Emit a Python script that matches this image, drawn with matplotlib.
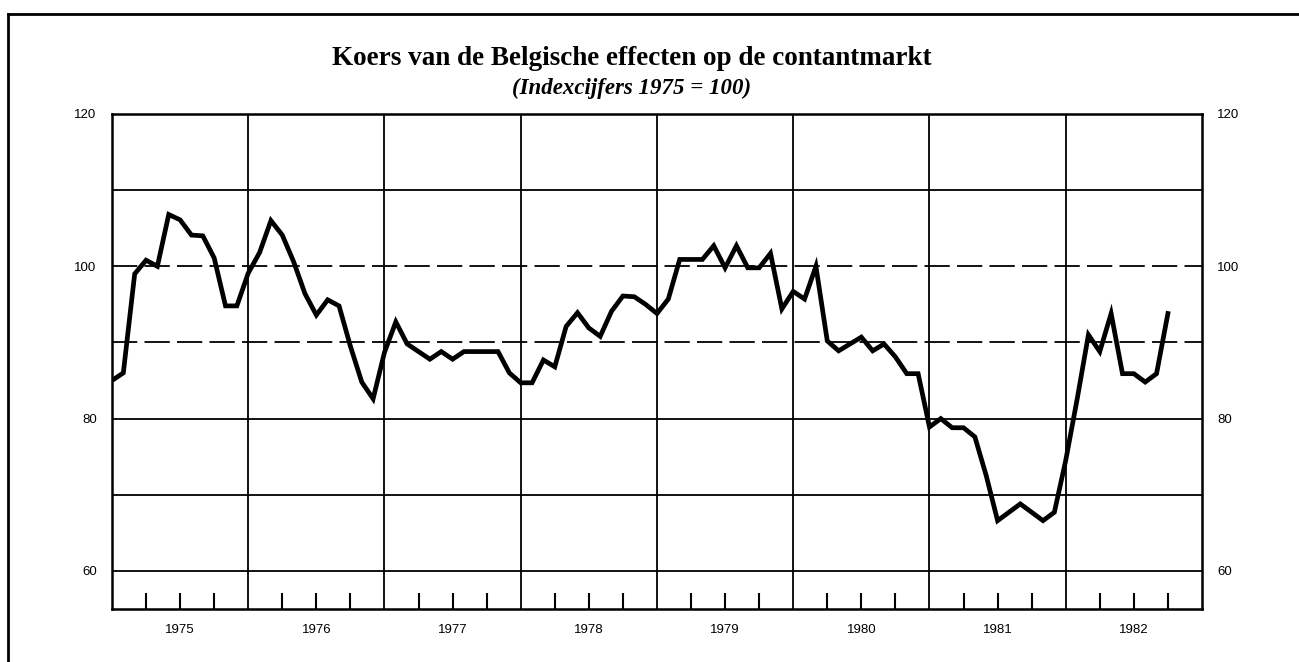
import numpy as np
import matplotlib
matplotlib.use('Agg')
import matplotlib.pyplot as plt
from matplotlib.lines import Line2D

plt.rcParams['font.family'] = ['Liberation Sans', 'DejaVu Sans']

# maandelijkse indexcijfers, januari 1975 - oktober 1982
years = [1975, 1976, 1977, 1978, 1979, 1980, 1981, 1982]
koers = [
    85.0, 86.0, 99.0, 100.8, 100.0, 106.8, 106.1, 104.1, 104.0, 101.1, 94.8, 94.8,   # 1975
    99.1, 101.8, 106.0, 104.1, 100.6, 96.4, 93.6, 95.6, 94.8, 89.5, 84.8, 82.6,      # 1976
    88.7, 92.7, 89.8, 88.8, 87.8, 88.8, 87.8, 88.8, 88.8, 88.8, 88.8, 86.0,          # 1977
    84.7, 84.7, 87.7, 86.8, 92.1, 93.9, 91.9, 90.8, 94.1, 96.1, 96.0, 95.0,          # 1978
    93.8, 95.7, 100.9, 100.9, 100.9, 102.7, 99.8, 102.7, 99.8, 99.8, 101.7, 94.4,    # 1979
    96.7, 95.7, 100.0, 90.2, 88.9, 89.8, 90.7, 88.9, 89.8, 88.1, 85.9, 85.9,         # 1980
    78.9, 80.0, 78.8, 78.8, 77.6, 72.5, 66.6, 67.7, 68.8, 67.7, 66.6, 67.7,          # 1981
    74.5, 82.5, 91.0, 88.8, 93.8, 85.9, 85.9, 84.8, 85.9, 93.8,                      # 1982
]
y_ticks = [60, 80, 100, 120]
solid_grid = [60, 70, 80, 110]
dashed_grid = [90, 100]

fig = plt.figure(figsize=(12.99, 6.62), dpi=100)
ax = fig.add_axes([0.0862, 0.0801, 0.8391, 0.7477])

n_months = 12 * len(years)
x = np.arange(len(koers))

# rooster
for v in solid_grid:
    ax.axhline(v, color='black', lw=1.3, zorder=1)
for v in dashed_grid:
    ax.axhline(v, color='black', lw=1.3, dashes=(14, 4), zorder=1)
for i in range(1, len(years)):
    ax.axvline(12 * i, color='black', lw=1.3, zorder=1)

ax.plot(x, koers, color='black', lw=3.4, solid_joinstyle='miter', zorder=3)

ax.set_xlim(0, n_months)
ax.set_ylim(55, 120)

# kwartaalstreepjes, jaartal onder het midden van elk jaar
q_ticks = [m for m in range(n_months) if m % 3 == 0 and m % 12 != 0]
q_labels = [str(years[m // 12]) if m % 12 == 6 else '' for m in q_ticks]
ax.set_xticks(q_ticks)
ax.set_xticklabels(q_labels, fontsize=9.5)
ax.tick_params(axis='x', direction='in', length=11.3, width=1.5, pad=11)

ax.set_yticks(y_ticks)
ax.set_yticklabels([str(v) for v in y_ticks], fontsize=9.5)
ax.tick_params(axis='y', length=0, labelright=True, pad=11)

for s in ax.spines.values():
    s.set_linewidth(1.8)

fig.text(0.4865, 0.911, 'Koers van de Belgische effecten op de contantmarkt',
         ha='center', va='center', fontsize=19.5, fontweight='bold',
         family=['Liberation Serif', 'DejaVu Serif'])
fig.text(0.4865, 0.866, '(Indexcijfers 1975 = 100)',
         ha='center', va='center', fontsize=16.5, style='italic', fontweight='bold',
         family=['Liberation Serif', 'DejaVu Serif'])

# kader
fig.add_artist(Line2D([8 / 1299, 1.0], [1 - 14 / 662, 1 - 14 / 662],
                      color='black', lw=2, transform=fig.transFigure))
fig.add_artist(Line2D([8 / 1299, 8 / 1299], [0.0, 1 - 14 / 662],
                      color='black', lw=2, transform=fig.transFigure))

fig.savefig('out.png', dpi=100, facecolor='white')
